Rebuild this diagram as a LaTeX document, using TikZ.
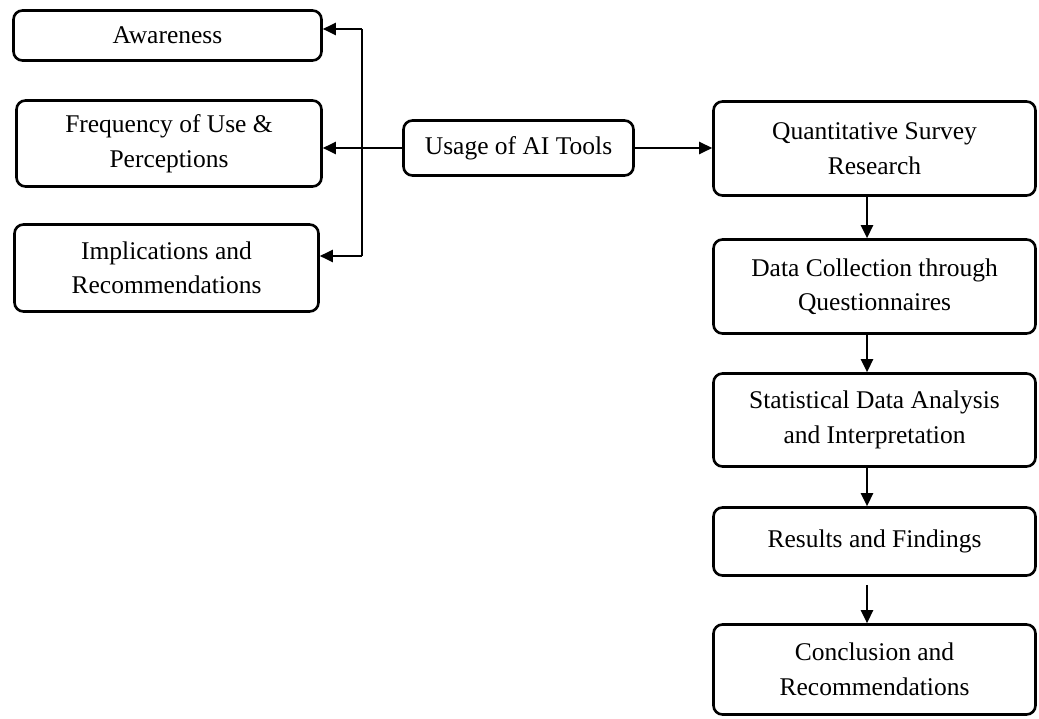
\documentclass[tikz,border=0pt]{standalone}
\usepackage{fontspec}
\setmainfont{Liberation Serif}
\usetikzlibrary{arrows.meta}
\begin{document}
\begin{tikzpicture}[x=1pt,y=-1pt,
 box/.style={draw,line width=2.6pt,rounded corners=9pt,align=center,inner sep=0pt,font=\fontsize{25.5}{34.5}\selectfont},
 conn/.style={line width=2.5pt},
 arr/.style={line width=2.5pt,-{Triangle[length=13pt,width=12pt]}}]
\useasboundingbox (0,0) rectangle (1039,719);
% left column
\node[box,minimum width=308pt,minimum height=50pt] (aw) at (167.5,35.5) {Awareness};
\node[box,minimum width=305pt,minimum height=86pt] (fr) at (169,143.5) {Frequency of Use \&\\Perceptions};
\node[box,minimum width=304pt,minimum height=87pt] (im) at (166.5,268) {Implications and\\Recommendations};
% centre
\node[box,minimum width=230pt,minimum height=55pt] (us) at (518.5,148) {Usage of AI Tools};
% right column
\node[box,minimum width=322pt,minimum height=94pt] (q) at (874.5,148.5) {Quantitative Survey\\Research};
\node[box,minimum width=322pt,minimum height=94pt] (d) at (874.5,286.5) {Data Collection through\\Questionnaires};
\node[box,minimum width=322pt,minimum height=93pt] (s) at (874.5,420) {Statistical Data Analysis\\and Interpretation};
\node[box,minimum width=322pt,minimum height=68pt] (r) at (874.5,541.5) {Results and Findings};
\node[box,minimum width=322pt,minimum height=90pt] (c) at (874.5,669.5) {Conclusion and\\Recommendations};
% connectors, left
\coordinate (t1) at (362,29);
\coordinate (t3) at (362,256);
\draw[conn] (t1) -- (t3);
\draw[arr] (t1) -- (t1 -| aw.east);
\draw[arr] (us.west) -- (us.west -| fr.east);
\draw[arr] (t3) -- (t3 -| im.east);
% connector, right
\draw[arr] (us.east) -- (us.east -| q.west);
% vertical flow
\coordinate (ax) at (867,0);
\draw[arr] (q.south -| ax) -- (d.north -| ax);
\draw[arr] (d.south -| ax) -- (s.north -| ax);
\draw[arr] (s.south -| ax) -- (r.north -| ax);
\draw[arr] ([yshift=-8pt]r.south -| ax) -- (c.north -| ax);
\end{tikzpicture}
\end{document}
